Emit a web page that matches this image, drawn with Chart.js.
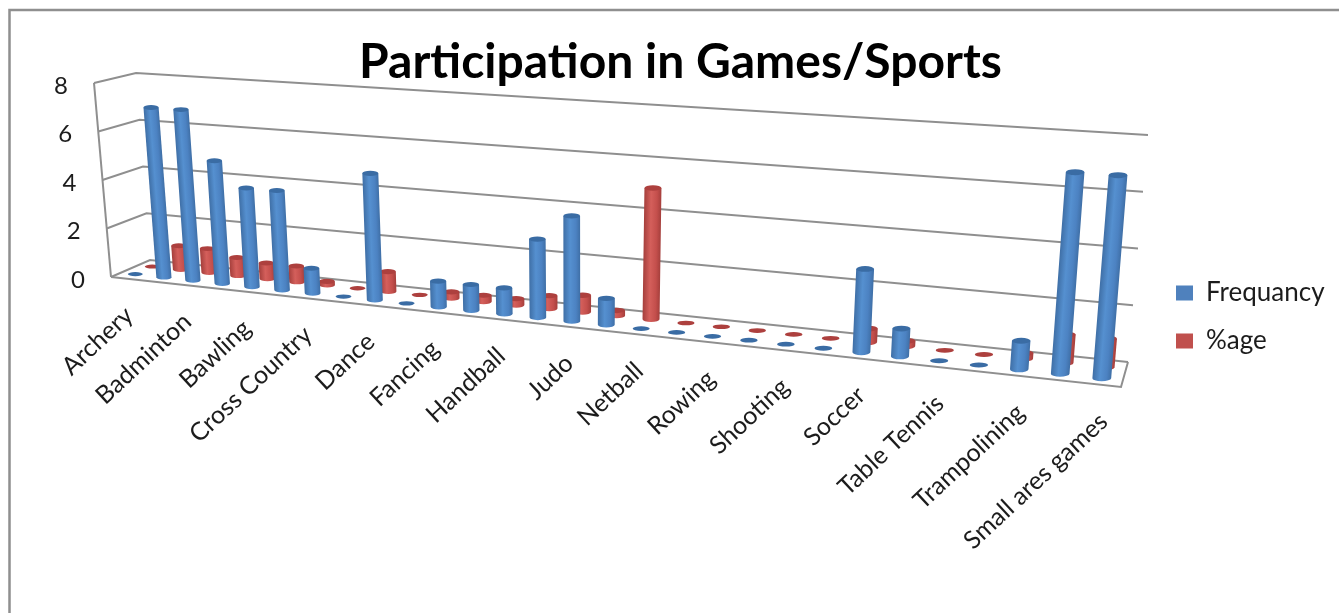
<!DOCTYPE html>
<html>
<head>
<meta charset="utf-8">
<title>Participation in Games/Sports</title>
<script src="https://cdn.jsdelivr.net/npm/chart.js@4"></script>
<style>
  html, body { margin: 0; padding: 0; background: #fff; }
  canvas { display: block; }
</style>
</head>
<body>
<canvas id="chart" width="1339" height="613"></canvas>
<script>
// --- data ---
// only every other category is labelled in the original
const categories = ['Archery', '', 'Badminton', '', 'Bawling', '', 'Cross Country', '', 'Dance', '',
  'Fancing', '', 'Handball', '', 'Judo', '', 'Netball', '', 'Rowing', '', 'Shooting', '',
  'Soccer', '', 'Table Tennis', '', 'Trampolining', '', 'Small ares games'];
const frequency = [0, 7, 7, 5, 4, 4, 1, 0, 5, 0, 1, 1, 1, 3, 4, 1, 0, 0, 0, 0, 0, 0, 3, 1, 0, 0, 1, 7, 7];
const percentage = [0, 1, 1, 0.75, 0.65, 0.65, 0.15, 0, 0.8, 0, 0.25, 0.25, 0.25, 0.5, 0.65, 0.2, 5, 0, 0, 0, 0, 0, 0.5, 0.2, 0, 0, 0.2, 1, 1];
const valueTicks = [0, 2, 4, 6, 8];

// --- 3D box the flat chart is projected on (screen px) ---
const BOX = {
  front0L: [111, 277], front0R: [1121, 387],
  back0L: [150, 260], back0R: [1128, 362],
  front8L: [94, 83], front8R: [1140, 152],
  back8L: [136, 73], back8R: [1148, 135]
};
const PERSPECTIVE = 0.818;  // categories get wider to the right
const ROW_DEPTH = [0.26, 0.70];  // blue row in front, red row behind

const LABEL_FONT = '25px Lato, sans-serif';
const VALUE_FONT = '24px Lato, sans-serif';
const TEXT_COLOR = '#1c1c1c';
const WALL_COLOR = '#8f8f8f';

const CYL_COLORS = [
  { edge: '#3f6fa6', light: '#5590d0', mid: '#4c82c2', top: '#3a6ca4' },
  { edge: '#a53f3c', light: '#d45f5b', mid: '#c44f4c', top: '#ad403e' }
];

function stretch(u) {
  return u * PERSPECTIVE / (1 + (PERSPECTIVE - 1) * u);
}

function lerp(a, b, t) {
  return [a[0] + (b[0] - a[0]) * t, a[1] + (b[1] - a[1]) * t];
}

// u = along categories, d = depth, h = height, all 0..1
function project(u, d, h) {
  const s = stretch(u);
  const bottom = lerp(lerp(BOX.front0L, BOX.front0R, s), lerp(BOX.back0L, BOX.back0R, s), d);
  const top = lerp(lerp(BOX.front8L, BOX.front8R, s), lerp(BOX.back8L, BOX.back8R, s), d);
  return lerp(bottom, top, h);
}

function polyline(ctx, pts) {
  ctx.beginPath();
  pts.forEach((p, i) => i ? ctx.lineTo(p[0], p[1]) : ctx.moveTo(p[0], p[1]));
  ctx.stroke();
}

function drawCylinder(ctx, base, top, w, c) {
  const rx = w / 2, ry = w * 0.16;
  if (Math.abs(base[1] - top[1]) < 0.5) {
    // zero value: only the flat disc shows
    ctx.fillStyle = c.top;
    ctx.beginPath();
    ctx.ellipse(base[0], base[1], rx, ry * 0.85, 0, 0, Math.PI * 2);
    ctx.fill();
    return;
  }
  // shear so the shading runs along the leaning bar
  const k = (top[0] - base[0]) / (top[1] - base[1]);
  ctx.save();
  ctx.transform(1, 0, k, 1, -k * base[1], 0);
  const g = ctx.createLinearGradient(base[0] - rx, 0, base[0] + rx, 0);
  g.addColorStop(0, c.edge);
  g.addColorStop(0.4, c.light);
  g.addColorStop(0.75, c.mid);
  g.addColorStop(1, c.edge);
  ctx.fillStyle = g;
  ctx.beginPath();
  ctx.moveTo(base[0] - rx, top[1]);
  ctx.lineTo(base[0] - rx, base[1]);
  ctx.ellipse(base[0], base[1], rx, ry, 0, Math.PI, 0, true);
  ctx.lineTo(base[0] + rx, top[1]);
  ctx.closePath();
  ctx.fill();
  ctx.restore();
  ctx.fillStyle = c.top;
  ctx.beginPath();
  ctx.ellipse(top[0], top[1], rx, ry, 0, 0, Math.PI * 2);
  ctx.fill();
}

const box3d = {
  id: 'box3d',
  // move the legend down next to the floor of the box, like the original
  afterUpdate(chart) {
    const lg = chart.legend;
    const h = lg.bottom - lg.top;
    lg.left = 1154;
    lg.right = lg.left + lg.width;
    lg.top = 317 - h / 2;
    lg.bottom = lg.top + h;
    lg.adjustHitBoxes();
  },
  beforeDraw(chart) {
    // chart frame: only the left and top edges are in the picture
    const ctx = chart.ctx;
    ctx.save();
    ctx.strokeStyle = '#8f8f8f';
    ctx.lineWidth = 2.5;
    polyline(ctx, [[9.5, 613], [9.5, 10], [1339, 10]]);
    ctx.restore();
  },
  beforeDatasetsDraw(chart) {
    const ctx = chart.ctx;
    const y = chart.scales.y;
    ctx.save();
    ctx.strokeStyle = WALL_COLOR;
    ctx.lineWidth = 2;
    polyline(ctx, [project(0, 0, 0), project(0, 0, 1)]);
    y.ticks.forEach(t => {
      const h = (y.bottom - y.getPixelForValue(t.value)) / y.height;
      polyline(ctx, [project(0, 0, h), project(0, 1, h), project(1, 1, h)]);
    });
    polyline(ctx, [project(0, 0, 0), project(1, 0, 0), project(1, 1, 0)]);
    ctx.restore();
  },
  beforeDatasetDraw(chart, args) {
    const ctx = chart.ctx;
    const area = chart.chartArea;
    const depth = ROW_DEPTH[args.index];
    const colors = CYL_COLORS[args.index];
    ctx.save();
    args.meta.data.forEach(bar => {
      const u = (bar.x - area.left) / area.width;
      const h = (area.bottom - bar.y) / area.height;
      const w = bar.width * (1 + 0.26 * stretch(u));
      drawCylinder(ctx, project(u, depth, 0), project(u, depth, h), w, colors);
    });
    ctx.restore();
    return false;  // the flat bars are replaced by the cylinders
  },
  afterDatasetsDraw(chart) {
    const ctx = chart.ctx;
    const x = chart.scales.x;
    const y = chart.scales.y;
    const area = chart.chartArea;
    ctx.save();
    ctx.fillStyle = TEXT_COLOR;

    // value axis labels follow the slanted front edge
    ctx.font = VALUE_FONT;
    ctx.textAlign = 'right';
    ctx.textBaseline = 'middle';
    y.ticks.forEach(t => {
      const h = (y.bottom - y.getPixelForValue(t.value)) / y.height;
      const p = project(0, 0, h);
      ctx.fillText(t.label, p[0] - 26, p[1] + 3);
    });

    // category labels hang off the front floor edge
    ctx.font = LABEL_FONT;
    categories.forEach((name, i) => {
      if (!name) return;
      const u = (x.getPixelForValue(i) - area.left) / area.width;
      const p = project(u, 0, 0);
      ctx.save();
      ctx.translate(p[0] + 4, p[1] + 33);
      ctx.rotate(-43 * Math.PI / 180);
      ctx.fillText(name, 0, 0);
      ctx.restore();
    });
    ctx.restore();
  }
};

new Chart(document.getElementById('chart'), {
  type: 'bar',
  data: {
    labels: categories,
    datasets: [
      { label: 'Frequancy', data: frequency, backgroundColor: '#4F81BD' },
      { label: '%age', data: percentage, backgroundColor: '#C0504D' }
    ]
  },
  plugins: [box3d],
  options: {
    responsive: false,
    animation: false,
    devicePixelRatio: 1,
    layout: { padding: { left: 22, right: 0, top: 0, bottom: 336 } },
    datasets: { bar: { grouped: false, barPercentage: 0.385, categoryPercentage: 1 } },
    scales: {
      x: { ticks: { display: false }, grid: { display: false }, border: { display: false } },
      y: {
        min: 0,
        max: 8,
        afterBuildTicks: axis => { axis.ticks = valueTicks.map(v => ({ value: v })); },
        ticks: { display: false },
        grid: { display: false },
        border: { display: false }
      }
    },
    plugins: {
      tooltip: { enabled: false },
      title: {
        display: true,
        text: 'Participation in Games/Sports',
        color: '#000',
        font: { family: 'Lato, sans-serif', size: 48, weight: 'bold', lineHeight: 1 },
        padding: { top: 39, bottom: -2 }
      },
      legend: {
        position: 'right',
        labels: {
          boxWidth: 17,
          boxHeight: 15,
          padding: 22,
          color: TEXT_COLOR,
          font: { family: 'Lato, sans-serif', size: 26 }
        }
      }
    }
  }
});
</script>
</body>
</html>
